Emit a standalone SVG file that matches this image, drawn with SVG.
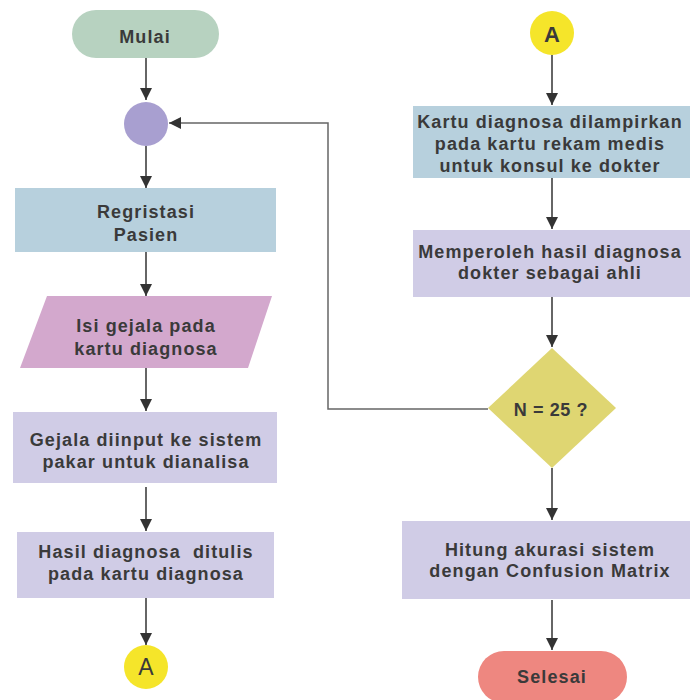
<svg xmlns="http://www.w3.org/2000/svg" width="690" height="700" viewBox="0 0 690 700">
  <style>
    .lbl { font-family: "Liberation Sans", Arial, sans-serif; font-weight: bold; font-size: 18px; fill: #3a3a3a; text-anchor: middle; dominant-baseline: central; letter-spacing: 1.1px; }
    .conn { stroke: #666; stroke-width: 2; fill: none; }
    .back { stroke: #666; stroke-width: 1.5; fill: none; }
  </style>
  <defs>
    <marker id="arrow" viewBox="0 0 12 12" refX="12" refY="6" markerWidth="12" markerHeight="12" markerUnits="userSpaceOnUse" orient="auto">
      <path d="M0,0 L12,6 L0,12 Z" fill="#333"/>
    </marker>
  </defs>

  <!-- connectors -->
  <g id="connectors">
    <line class="conn" x1="146" y1="58" x2="146" y2="100" marker-end="url(#arrow)"/>
    <line class="conn" x1="146" y1="146" x2="146" y2="188" marker-end="url(#arrow)"/>
    <line class="conn" x1="146" y1="252" x2="146" y2="296" marker-end="url(#arrow)"/>
    <line class="conn" x1="146" y1="368" x2="146" y2="411" marker-end="url(#arrow)"/>
    <line class="conn" x1="146" y1="487" x2="146" y2="531" marker-end="url(#arrow)"/>
    <line class="conn" x1="146" y1="598" x2="146" y2="645" marker-end="url(#arrow)"/>
    <line class="conn" x1="552" y1="55" x2="552" y2="105" marker-end="url(#arrow)"/>
    <line class="conn" x1="552" y1="178" x2="552" y2="229" marker-end="url(#arrow)"/>
    <line class="conn" x1="552" y1="297" x2="552" y2="347" marker-end="url(#arrow)"/>
    <line class="conn" x1="552" y1="468" x2="552" y2="520" marker-end="url(#arrow)"/>
    <line class="conn" x1="552" y1="600" x2="552" y2="650" marker-end="url(#arrow)"/>
    <polyline class="back" points="488,409 328,409 328,123 169,123" marker-end="url(#arrow)"/>
  </g>

  <g id="start">
    <rect x="72" y="10" width="147" height="48" rx="24" fill="#b7d2c0"/>
    <text class="lbl" x="145" y="37">Mulai</text>
  </g>

  <g id="join">
    <circle cx="146" cy="124" r="22" fill="#a89fd0"/>
  </g>

  <g id="registrasi">
    <rect x="15" y="188" width="261" height="64" fill="#b7d0dd"/>
    <text class="lbl" x="146" y="212">Regristasi</text>
    <text class="lbl" x="146" y="235">Pasien</text>
  </g>

  <g id="isi-gejala">
    <polygon points="47,296 272,296 248,368 20,368" fill="#d3a8cd"/>
    <text class="lbl" x="146" y="326">Isi gejala pada</text>
    <text class="lbl" x="146" y="349">kartu diagnosa</text>
  </g>

  <g id="input-gejala">
    <rect x="13" y="412" width="264" height="71" fill="#d0cce6"/>
    <text class="lbl" x="146" y="440">Gejala diinput ke sistem</text>
    <text class="lbl" x="146" y="462">pakar untuk dianalisa</text>
  </g>

  <g id="hasil-ditulis">
    <rect x="17" y="532" width="257" height="66" fill="#d0cce6"/>
    <text class="lbl" x="146" y="552" xml:space="preserve">Hasil diagnosa  ditulis</text>
    <text class="lbl" x="146" y="574">pada kartu diagnosa</text>
  </g>

  <g id="connector-a-out">
    <circle cx="146" cy="667" r="22" fill="#f5e52a"/>
    <text class="lbl" x="146" y="667" style="font-weight:normal;font-size:23px;letter-spacing:0">A</text>
  </g>

  <g id="connector-a-in">
    <circle cx="552" cy="33" r="22" fill="#f5e52a"/>
    <text class="lbl" x="552" y="34" style="font-size:22px;letter-spacing:0">A</text>
  </g>

  <g id="kartu-dilampirkan">
    <rect x="413" y="106" width="277" height="72" fill="#b7d0dd"/>
    <text class="lbl" x="550" y="122">Kartu diagnosa dilampirkan</text>
    <text class="lbl" x="550" y="144">pada kartu rekam medis</text>
    <text class="lbl" x="550" y="166">untuk konsul ke dokter</text>
  </g>

  <g id="hasil-dokter">
    <rect x="413" y="230" width="277" height="67" fill="#d0cce6"/>
    <text class="lbl" x="550" y="252">Memperoleh hasil diagnosa</text>
    <text class="lbl" x="550" y="273">dokter sebagai ahli</text>
  </g>

  <g id="decision">
    <polygon points="552,348 616,408 552,468 488,408" fill="#dfd672"/>
    <text class="lbl" x="551" y="410" style="letter-spacing:0.6px">N = 25 ?</text>
  </g>

  <g id="akurasi">
    <rect x="402" y="521" width="288" height="78" fill="#d0cce6"/>
    <text class="lbl" x="550" y="550">Hitung akurasi sistem</text>
    <text class="lbl" x="550" y="571">dengan Confusion Matrix</text>
  </g>

  <g id="end">
    <rect x="478" y="651" width="149" height="52" rx="26" fill="#ee8780"/>
    <text class="lbl" x="552" y="677">Selesai</text>
  </g>
</svg>
